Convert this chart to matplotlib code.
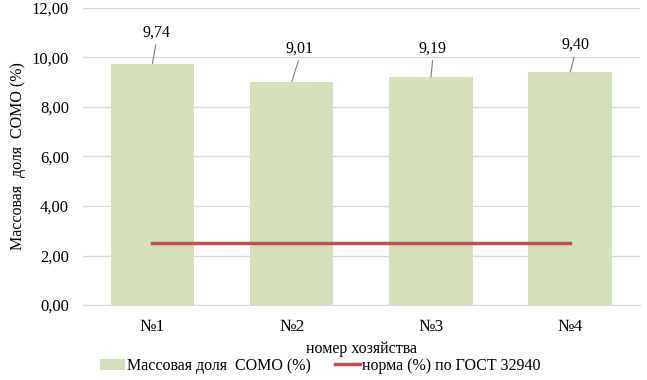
import numpy as np
import matplotlib.pyplot as plt

plt.rcParams['font.family'] = ['Liberation Serif', 'DejaVu Serif']

farms = ['№1', '№2', '№3', '№4']
somo = [9.74, 9.01, 9.19, 9.40]
norm = [2.5, 2.5, 2.5, 2.5]

# label offsets (pixels) from bar top, to mimic the manual leader lines
label_dx = [4, 8, 2, 5]
label_dy = [31, 33, 29, 27]

fs = 11.5

fig = plt.figure(figsize=(6.47, 3.8), dpi=100)
ax = fig.add_axes([0.128, 0.197, 0.861, 0.783])

x = np.arange(len(farms))
bars = ax.bar(x, somo, width=0.6, color='#d3e0bb', zorder=2)
line, = ax.plot(x, norm, color='#c0504d', lw=2.5, zorder=3)

for i, v in enumerate(somo):
    ax.annotate(f'{v:.2f}'.replace('.', ','), xy=(i, v),
                xytext=(label_dx[i], label_dy[i]), textcoords='offset pixels',
                ha='center', va='center', fontsize=fs,
                arrowprops=dict(arrowstyle='-', color='#7f7f7f', lw=0.8,
                                shrinkA=1, shrinkB=0, relpos=(0.5, 0)))

ax.set_xlim(-0.5, 3.5)
ax.set_ylim(0, 12)
ticks = np.arange(0, 12.1, 2)
ax.set_yticks(ticks)
ax.set_yticklabels([f'{t:.2f}'.replace('.', ',') for t in ticks], fontsize=12)
ax.set_xticks(x)
ax.set_xticklabels(farms, fontsize=12.5)
ax.tick_params(axis='x', length=0, pad=10)
ax.tick_params(axis='y', length=0, pad=10)
ax.yaxis.grid(True, color='#d9d9d9', lw=1, zorder=0)
ax.set_axisbelow(True)
for s in ['top', 'right', 'left']:
    ax.spines[s].set_visible(False)
ax.spines['bottom'].set_color('#d9d9d9')

ax.set_xlabel('номер хозяйства', fontsize=fs, va='center')
ax.xaxis.set_label_coords(0.5, -0.148)
ax.set_ylabel('Массовая  доля  СОМО (%)', fontsize=fs, labelpad=4)

fig.legend([bars, line], ['Массовая доля  СОМО (%)', 'норма (%) по ГОСТ 32940'],
           loc='center', bbox_to_anchor=(0.495, 0.037), ncol=2, frameon=False,
           fontsize=fs, handlelength=1.6, handleheight=0.7, columnspacing=1.5,
           handletextpad=0.12, borderpad=0)

fig.savefig('out.png', dpi=100)
